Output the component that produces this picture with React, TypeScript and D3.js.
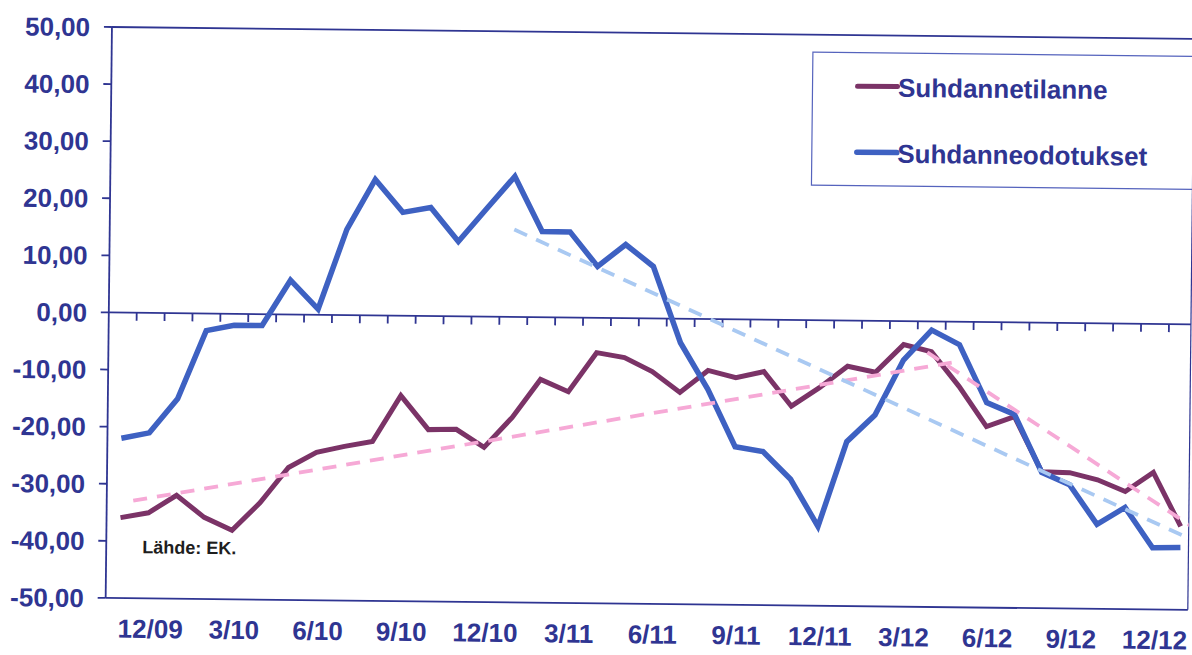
import React from "react";
import * as d3 from "d3";

// kuukaudet 11/09 - 1/13
const months = [
  "11/09", "12/09",
  "1/10", "2/10", "3/10", "4/10", "5/10", "6/10", "7/10", "8/10", "9/10", "10/10", "11/10", "12/10",
  "1/11", "2/11", "3/11", "4/11", "5/11", "6/11", "7/11", "8/11", "9/11", "10/11", "11/11", "12/11",
  "1/12", "2/12", "3/12", "4/12", "5/12", "6/12", "7/12", "8/12", "9/12", "10/12", "11/12", "12/12",
  "1/13",
];

const tickLabels = ["12/09", "3/10", "6/10", "9/10", "12/10", "3/11", "6/11", "9/11", "12/11", "3/12", "6/12", "9/12", "12/12"];

const yTicks = [50, 40, 30, 20, 10, 0, -10, -20, -30, -40, -50];

const suhdannetilanne = [
  -35.9, -35, -31.9, -35.7, -37.9, -33, -26.8, -24.1, -23, -22.1, -14, -19.9, -19.8, -22.9, -17.6,
  -10.9, -13, -6.1, -6.9, -9.3, -12.9, -9, -10.2, -9.1, -15.1, -11.8, -8, -9, -4.1, -5.3, -11.3,
  -18.3, -16.5, -26.1, -26.2, -27.4, -29.4, -26, -35.4,
];

const suhdanneodotukset = [
  -22, -21, -15, -3, -2, -2, 6, 1, 15, 23.8, 18.1, 19, 13.1, 18.9, 24.6, 15, 15, 9, 12.9, 9.1, -4.2,
  -12.3, -22.3, -23.1, -27.9, -36.1, -21.2, -16.5, -6.8, -1.5, -4, -14.1, -16.1, -26.2, -28.3, -35.2,
  -32.2, -39.2, -39.1,
];

// trendiviivat: [kuukausi-indeksi, arvo]
const trendTilanneUp: [number, number][] = [[0.45, -32.9], [29.8, -7.1]];
const trendTilanneDown: [number, number][] = [[28.85, -5.4], [38.4, -35.4]];
const trendOdotukset: [number, number][] = [[14, 15.3], [38.4, -37.7]];

const W = 1192, H = 655;
const left = 108.8, right = 1191, top = 27, bottom = 598;
const navy = "#2f3592";
const colTilanne = "#7b3367";
const colOdotukset = "#3e61c2";
const colPink = "#f6a9d6";
const colLightBlue = "#a9c9f2";

const fi = d3.formatLocale({ decimal: ",", thousands: " ", grouping: [3], currency: ["", "€"], minus: "-" });
const fmt = fi.format(".2f");

export default function App() {
  const x = d3.scaleLinear().domain([-0.5, 38.5]).range([left, left + 39 * 27.9]);
  const y = d3.scaleLinear().domain([-50, 50]).range([bottom, top]);

  const line = d3.line<number>().x((_, i) => x(i)).y(d => y(d));
  const trend = d3.line<[number, number]>().x(d => x(d[0])).y(d => y(d[1]));

  const boundaries = d3.range(1, 40).map(k => x(k - 0.5)).filter(v => v < right);

  const font = "'Liberation Sans', Arial, sans-serif";

  return (
    <svg width={W} height={H} style={{ position: "absolute", left: 0, top: 0, background: "#fff" }}
      fontFamily={font}>
      <defs>
        <clipPath id="plot">
          <rect x={left} y={top} width={right - left} height={bottom - top} />
        </clipPath>
      </defs>
      <g transform="rotate(0.63 112 313)">
        {/* kehys */}
        <line x1={left} x2={right} y1={top} y2={top} stroke={navy} strokeWidth={1.8} />
        <line x1={right} x2={right} y1={top} y2={bottom} stroke={navy} strokeWidth={1.2} />
        <line x1={left} x2={right} y1={bottom} y2={bottom} stroke={navy} strokeWidth={1.8} />
        <line x1={left} x2={left} y1={top} y2={bottom} stroke={navy} strokeWidth={1.8} />

        {/* y-akseli */}
        {yTicks.map(t => (
          <g key={t}>
            <line x1={left - 8} x2={left} y1={y(t)} y2={y(t)} stroke={navy} strokeWidth={1.8} />
            <text x={87} y={y(t)} dy="0.36em" textAnchor="end" fontSize={26} fontWeight="bold" fill={navy}>
              {fmt(t)}
            </text>
          </g>
        ))}

        {/* nollaviiva */}
        <line x1={left} x2={right} y1={y(0)} y2={y(0)} stroke={navy} strokeWidth={1.8} />
        {boundaries.map((bx, k) => (
          <line key={k} x1={bx} x2={bx} y1={y(0)} y2={y(0) + 8} stroke={navy} strokeWidth={1.8} />
        ))}

        {/* x-akselin nimikkeet */}
        {tickLabels.map(lab => (
          <text key={lab} x={x(months.indexOf(lab)) + 3} y={637.5} textAnchor="middle"
            fontSize={26} fontWeight="bold" fill={navy}>
            {lab}
          </text>
        ))}

        <g clipPath="url(#plot)">
          <path d={line(suhdannetilanne) ?? ""} fill="none" stroke={colTilanne} strokeWidth={5} />
          <path d={line(suhdanneodotukset) ?? ""} fill="none" stroke={colOdotukset} strokeWidth={5.5} />
          <path d={trend(trendTilanneUp) ?? ""} fill="none" stroke={colPink} strokeWidth={3.8} strokeDasharray="14 10" />
          <path d={trend(trendTilanneDown) ?? ""} fill="none" stroke={colPink} strokeWidth={3.8} strokeDasharray="14 10" />
          <path d={trend(trendOdotukset) ?? ""} fill="none" stroke={colLightBlue} strokeWidth={3.8} strokeDasharray="14 10" />
        </g>

        <text x={145} y={553} fontSize={18} fontWeight="bold" fill="#1e1e1e">Lähde: EK.</text>

        {/* selite */}
        <rect x={810} y={44.5} width={right - 810} height={133} fill="#fff" stroke="#5563bd" strokeWidth={1.2} />
        <line x1={855} x2={895} y1={78} y2={78} stroke={colTilanne} strokeWidth={5} strokeLinecap="round" />
        <text x={895.5} y={88.2} fontSize={26} fontWeight="bold" fill={navy}>Suhdannetilanne</text>
        <line x1={855} x2={895} y1={144} y2={144} stroke={colOdotukset} strokeWidth={5.5} strokeLinecap="round" />
        <text x={895.5} y={154.2} fontSize={26} fontWeight="bold" fill={navy}>Suhdanneodotukset</text>
      </g>
    </svg>
  );
}
